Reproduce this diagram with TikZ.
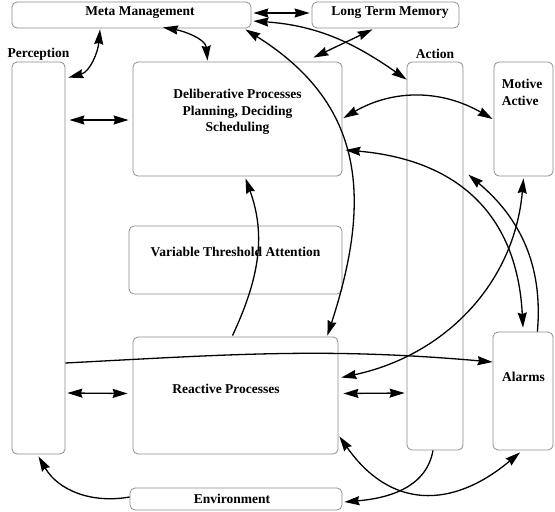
\documentclass[tikz,border=0pt]{standalone}
\usepackage{fontspec}
\setmainfont{Liberation Serif}
\usetikzlibrary{arrows.meta,calc}
\begin{document}
\begin{tikzpicture}[x=1pt,y=-1pt,
  box/.style={draw=black!45, rounded corners=5pt, line width=0.8pt, inner sep=0pt},
  lbl/.style={font=\fontsize{13.5}{16.5}\selectfont\bfseries, inner sep=0pt},
  >={Stealth[length=15pt,width=9pt,inset=1.5pt]},
  dbl/.style={line width=1.3pt, <->},
  sgl/.style={line width=1.3pt, ->}]
\useasboundingbox (0,0) rectangle (555,512);
% boxes
\node[box, minimum width=239pt, minimum height=26pt] (meta) at (131.5,15) {};
\node[box, minimum width=147pt, minimum height=26pt] (ltm) at (385.5,15) {};
\node[box, minimum width=53pt, minimum height=392pt] (perc) at (38.5,258) {};
\node[box, minimum width=209pt, minimum height=114pt] (delib) at (237.5,119) {};
\node[box, minimum width=213pt, minimum height=68pt] (vta) at (235.5,260) {};
\node[box, minimum width=56pt, minimum height=388pt] (act) at (435,256) {};
\node[box, minimum width=59pt, minimum height=114pt] (mot) at (523.5,119) {};
\node[box, minimum width=60pt, minimum height=118pt] (alarms) at (523,391) {};
\node[box, minimum width=205pt, minimum height=117pt] (react) at (235.5,395.5) {};
\node[box, minimum width=212pt, minimum height=22pt] (env) at (236,499) {};
% labels
\node[lbl] (metaT) at (140,13) {Meta Management};
\node[lbl] (ltmT) at (390,13) {Long Term Memory};
\node[lbl] (percT) at (38.5,54) {Perception};
\node[lbl] (actT) at (435,54) {Action};
\node[lbl, align=center] (delibT) at (237.5,112) {Deliberative Processes\\Planning, Deciding\\Scheduling};
\node[lbl] (vtaT) at (235.5,252) {Variable Threshold Attention};
\node[lbl, align=left] (motT) at (522,92.5) {Motive\\Active};
\node[lbl] (alT) at (523.5,377) {Alarms};
\node[lbl] (reT) at (226,389) {Reactive Processes};
\node[lbl] (envT) at (232,499) {Environment};
% connectors
\draw[dbl] ($(meta.east)+(2,-2)$) -- ($(ltm.west)+(-2,-2)$);
\draw[dbl] ($(meta.east)+(2,6)$) to[out=-4,in=145] ($(act.north west)+(0,18)$);
\draw[dbl] ($(meta.south)+(-31.5,1)$) to[out=-95,in=15] ($(perc.north east)+(3,16)$);
\draw[dbl] ($(meta.south)+(31.5,-1)$) to[out=-10,in=95] ($(delib.north)+(-30,-1)$);
\draw[dbl] ($(ltm.south)+(-13,1)$) -- ($(delib.north east)+(-29,-4)$);
\draw[dbl] ($(perc.east)+(4,-138)$) -- ($(delib.west)+(-4,1)$);
\draw[dbl] ($(perc.east)+(2,135)$) -- ($(react.west)+(-5,-2)$);
\draw[dbl] ($(react.east)+(5,-2)$) -- ($(act.west)+(-2,137)$);
\draw[dbl] ($(meta.south east)+(-6,1)$) to[out=-32,in=72,looseness=1.15] ($(react.north east)+(-11,-1)$);
\draw[dbl] ($(delib.east)+(1,-1)$) to[out=30,in=150] ($(mot.west)+(-1,0)$);
\draw[dbl] ($(delib.east)+(3,31)$) to[out=-5,in=93,looseness=1.15] ($(alarms.north)+(0,-4)$);
\draw[sgl] ($(alarms.north east)+(-16,0)$) to[out=85,in=-40] ($(act.north east)+(5,113)$);
\draw[dbl] ($(react.east)+(3,-18)$) to[out=12,in=-95] ($(mot.south)+(0,2)$);
\draw[sgl] ($(perc.east)+(0,105)$) to[out=3,in=175] ($(alarms.west)+(0,-29)$);
\draw[dbl] ($(react.south east)+(1,-18)$) to[out=-55,in=-140,looseness=1.25] ($(alarms.south)+(-3,2)$);
\draw[sgl] ($(act.south)+(-2,0)$) to[out=-100,in=5] ($(env.east)+(2,3)$);
\draw[sgl] ($(env.west)+(0,-2)$) to[out=190,in=-60] ($(perc.south)+(0,2)$);
\draw[sgl] ($(react.north)+(-3,-1)$) to[out=65,in=-70] ($(delib.south)+(8,2)$);
\end{tikzpicture}
\end{document}
